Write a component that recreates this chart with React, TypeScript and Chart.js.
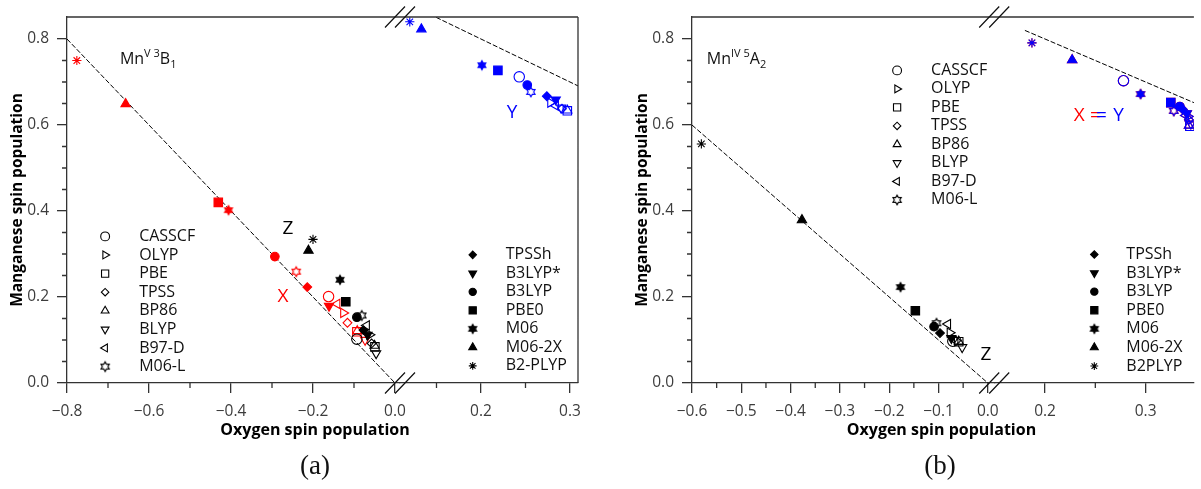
import React, { useEffect, useRef } from 'react';
import { Chart, registerables } from 'chart.js';
import { drawPoint } from 'chart.js/helpers';

Chart.register(...registerables);

// ---------------- DATA ----------------
const methods = ['CASSCF', 'OLYP', 'PBE', 'TPSS', 'BP86', 'BLYP', 'B97-D', 'M06-L', 'TPSSh', 'B3LYP*', 'B3LYP', 'PBE0', 'M06', 'M06-2X', 'B2-PLYP'];

// Panel (a): Mn(V) 3B1 — oxygen spin (x) and manganese spin (y)
const aX_O = [-0.162, -0.126, -0.093, -0.116, -0.092, -0.073, -0.141, -0.241, -0.214, -0.161, -0.293, -0.431, -0.406, -0.657, -0.776];
const aX_Mn = [0.201, 0.163, 0.119, 0.140, 0.121, 0.100, 0.184, 0.259, 0.223, 0.179, 0.294, 0.420, 0.402, 0.649, 0.750];
const aZ_O = [-0.093, -0.062, -0.049, -0.057, -0.050, -0.046, -0.069, -0.081, -0.077, -0.067, -0.093, -0.120, -0.134, -0.211, -0.200];
const aZ_Mn = [0.102, 0.112, 0.084, 0.092, 0.087, 0.069, 0.134, 0.157, 0.123, 0.112, 0.153, 0.189, 0.240, 0.308, 0.334];
const aY_O = [0.243, 0.278, 0.297, 0.291, 0.297, 0.290, 0.284, 0.256, 0.274, 0.284, 0.252, 0.219, 0.201, 0.133, 0.120];
const aY_Mn = [0.712, 0.652, 0.633, 0.638, 0.634, 0.640, 0.645, 0.677, 0.667, 0.659, 0.693, 0.727, 0.739, 0.823, 0.840];

// Panel (b): Mn(IV) 5A2 — X and Y coincide
const bXY_O = [0.278, 0.342, 0.344, 0.343, 0.343, 0.345, 0.340, 0.328, 0.337, 0.341, 0.334, 0.325, 0.295, 0.227, 0.187];
const bXY_Mn = [0.703, 0.620, 0.597, 0.612, 0.599, 0.603, 0.622, 0.633, 0.636, 0.627, 0.643, 0.652, 0.672, 0.751, 0.791];
const bZ_O = [-0.071, -0.077, -0.059, -0.064, -0.059, -0.052, -0.081, -0.104, -0.097, -0.074, -0.109, -0.147, -0.177, -0.377, -0.581];
const bZ_Mn = [0.097, 0.117, 0.096, 0.098, 0.097, 0.083, 0.137, 0.139, 0.116, 0.104, 0.131, 0.168, 0.223, 0.379, 0.556];

// Reference lines (Mn + O = 0 and Mn + O = 1)
const aLineLeft = [[-0.8, 0.8], [0.0, 0.0]];
const aLineRight = [[0.1, 0.9], [0.4, 0.6]];
const bLineLeft = [[-0.6, 0.6], [0.0, 0.0]];
const bLineRight = [[0.18, 0.82], [0.4, 0.6]];

// Ticks
const yTicks = [0.0, 0.2, 0.4, 0.6, 0.8];
const yMinor = [0.05, 0.1, 0.15, 0.25, 0.3, 0.35, 0.45, 0.5, 0.55, 0.65, 0.7, 0.75];
const aXLeftTicks = [-0.8, -0.6, -0.4, -0.2, 0.0];
const aXLeftMinor = [-0.7, -0.5, -0.3, -0.1];
const aXRightTicks = [0.2, 0.3];
const aXRightMinor = [0.15, 0.25];
const bXLeftTicks = [-0.6, -0.5, -0.4, -0.3, -0.2, -0.1, 0.0];
const bXLeftMinor = [-0.55, -0.45, -0.35, -0.25, -0.15, -0.05];
const bXRightTicks = [0.2, 0.3];
const bXRightMinor = [0.25];

// Legends
const legend1 = ['CASSCF', 'OLYP', 'PBE', 'TPSS', 'BP86', 'BLYP', 'B97-D', 'M06-L'];
const aLegend2 = ['TPSSh', 'B3LYP*', 'B3LYP', 'PBE0', 'M06', 'M06-2X', 'B2-PLYP'];
const bLegend2 = ['TPSSh', 'B3LYP*', 'B3LYP', 'PBE0', 'M06', 'M06-2X', 'B2PLYP'];

// ---------------- STYLE ----------------
const RED = '#ff0000';
const BLUE = '#0000ff';
const BLACK = '#000000';
const AXIS = '#333333';
const TICK = '#3c3c3c';
const FONT = '"Open Sans", "Noto Sans", sans-serif';

type MarkerDef = { style: string; rot: number; r: number; filled: boolean };
const markerDefs: Record<string, MarkerDef> = {
  'CASSCF': { style: 'circle', rot: 0, r: 5.2, filled: false },
  'OLYP': { style: 'triangle', rot: 90, r: 5.3, filled: false },
  'PBE': { style: 'rect', rot: 0, r: 6, filled: false },
  'TPSS': { style: 'rectRot', rot: 0, r: 4.4, filled: false },
  'BP86': { style: 'triangle', rot: 0, r: 5.3, filled: false },
  'BLYP': { style: 'triangle', rot: 180, r: 5.3, filled: false },
  'B97-D': { style: 'triangle', rot: 270, r: 5.3, filled: false },
  'M06-L': { style: 'hexagram', rot: 0, r: 4.8, filled: false },
  'TPSSh': { style: 'rectRot', rot: 0, r: 4.4, filled: true },
  'B3LYP*': { style: 'triangle', rot: 180, r: 5.3, filled: true },
  'B3LYP': { style: 'circle', rot: 0, r: 4.3, filled: true },
  'PBE0': { style: 'rect', rot: 0, r: 6, filled: true },
  'M06': { style: 'hexagram', rot: 0, r: 4.6, filled: true },
  'M06-2X': { style: 'triangle', rot: 0, r: 5.4, filled: true },
  'B2-PLYP': { style: 'star', rot: 0, r: 4.6, filled: false },
};
const keyFor = (label: string) => (label === 'B2PLYP' ? 'B2-PLYP' : label);

const hexCache = new Map<string, HTMLCanvasElement>();
function hexagram(color: string, filled: boolean, R: number): HTMLCanvasElement {
  const key = color + String(filled) + R;
  const got = hexCache.get(key);
  if (got) return got;
  const size = Math.ceil(2 * R + 4);
  const c = document.createElement('canvas');
  c.width = size;
  c.height = size;
  const ctx = c.getContext('2d')!;
  const cx = size / 2, cy = size / 2, r2 = R / Math.sqrt(3);
  ctx.beginPath();
  for (let i = 0; i < 12; i++) {
    const ang = -Math.PI / 2 + (i * Math.PI) / 6;
    const rr = i % 2 === 0 ? R : r2;
    const x = cx + rr * Math.cos(ang), y = cy + rr * Math.sin(ang);
    if (i === 0) ctx.moveTo(x, y); else ctx.lineTo(x, y);
  }
  ctx.closePath();
  if (filled) { ctx.fillStyle = color; ctx.fill(); }
  ctx.strokeStyle = color;
  ctx.lineWidth = 1.1;
  ctx.stroke();
  hexCache.set(key, c);
  return c;
}
function styleFor(m: string, color: string): any {
  const d = markerDefs[m];
  if (d.style === 'hexagram') return hexagram(color, d.filled, d.r);
  return d.style;
}

const fmt = (v: number) => (v < -1e-9 ? '\u2212' + Math.abs(v).toFixed(1) : Math.abs(v).toFixed(1));

// ---------------- PANELS ----------------
type Seg = { min: number; max: number; weight: number; ticks: number[]; minor: number[] };
type Series = { o: number[]; mn: number[]; color: string; axis: string; order: number };
type TextItem = { axis: string; x: number; y: number; text: string; color: string; size: number };
type LegendBlock = { axis: string; x: number; y: number; gap: number; dx: number; labels: string[] };
type RichPart = { t: string; k: 'n' | 'sup' | 'sub' };
type PanelCfg = {
  left: number; width: number;
  padding: { left: number; right: number; top: number; bottom: number };
  yWidth: number;
  xl: Seg; xr: Seg;
  series: Series[];
  lines: { pts: number[][]; axis: string }[];
  texts: TextItem[];
  legends: LegendBlock[];
  rich: { axis: string; x: number; y: number; parts: RichPart[] };
  xTitle: { axis: string; x: number; dy: number };
  frameRight: boolean;
};

const panelA: PanelCfg = {
  left: 0, width: 600,
  padding: { left: 0, right: 22, top: 17, bottom: 66 },
  yWidth: 67,
  xl: { min: -0.8, max: 0.0122, weight: 333, ticks: aXLeftTicks, minor: aXLeftMinor },
  xr: { min: 0.109, max: 0.309, weight: 178, ticks: aXRightTicks, minor: aXRightMinor },
  series: [
    { o: aX_O, mn: aX_Mn, color: RED, axis: 'xl', order: 2 },
    { o: aZ_O, mn: aZ_Mn, color: BLACK, axis: 'xl', order: 1 },
    { o: aY_O, mn: aY_Mn, color: BLUE, axis: 'xr', order: 1 },
  ],
  lines: [{ pts: aLineLeft, axis: 'xl' }, { pts: aLineRight, axis: 'xr' }],
  texts: [
    { axis: 'xl', x: -0.261, y: 0.360, text: 'Z', color: BLACK, size: 19 },
    { axis: 'xl', x: -0.273, y: 0.200, text: 'X', color: RED, size: 19 },
    { axis: 'xr', x: 0.235, y: 0.628, text: 'Y', color: BLUE, size: 19 },
  ],
  legends: [
    { axis: 'xl', x: -0.707, y: 0.341, gap: 18.6, dx: 34, labels: legend1 },
    { axis: 'xr', x: 0.1907, y: 0.298, gap: 18.5, dx: 33, labels: aLegend2 },
  ],
  rich: { axis: 'xl', x: -0.671, y: 0.742, parts: [
    { t: 'Mn', k: 'n' }, { t: 'V', k: 'sup' }, { t: ' ', k: 'sup' }, { t: '3', k: 'sup' }, { t: 'B', k: 'n' }, { t: '1', k: 'sub' },
  ] },
  xTitle: { axis: 'xl', x: -0.195, dy: 47 },
  frameRight: true,
};

const panelB: PanelCfg = {
  left: 600, width: 601,
  padding: { left: 25, right: 0, top: 17, bottom: 66 },
  yWidth: 67,
  xl: { min: -0.6, max: 0.013, weight: 306.5, ticks: bXLeftTicks, minor: bXLeftMinor },
  xr: { min: 0.1495, max: 0.348, weight: 202.5, ticks: bXRightTicks, minor: bXRightMinor },
  series: [
    { o: bZ_O, mn: bZ_Mn, color: BLACK, axis: 'xl', order: 1 },
    { o: bXY_O, mn: bXY_Mn, color: RED, axis: 'xr', order: 2 },
    { o: bXY_O, mn: bXY_Mn, color: BLUE, axis: 'xr', order: 1 },
  ],
  lines: [{ pts: bLineLeft, axis: 'xl' }, { pts: bLineRight, axis: 'xr' }],
  texts: [
    { axis: 'xl', x: -0.004, y: 0.067, text: 'Z', color: BLACK, size: 19 },
    { axis: 'xr', x: 0.234, y: 0.623, text: 'X', color: RED, size: 19 },
    { axis: 'xr', x: 0.250, y: 0.623, text: '=', color: RED, size: 19 },
    { axis: 'xr', x: 0.256, y: 0.623, text: '=', color: BLUE, size: 19 },
    { axis: 'xr', x: 0.273, y: 0.623, text: 'Y', color: BLUE, size: 19 },
  ],
  legends: [
    { axis: 'xl', x: -0.184, y: 0.727, gap: 18.5, dx: 34, labels: legend1 },
    { axis: 'xr', x: 0.249, y: 0.299, gap: 18.6, dx: 32, labels: bLegend2 },
  ],
  rich: { axis: 'xl', x: -0.57, y: 0.742, parts: [
    { t: 'Mn', k: 'n' }, { t: 'IV', k: 'sup' }, { t: ' ', k: 'sup' }, { t: '5', k: 'sup' }, { t: 'A', k: 'n' }, { t: '2', k: 'sub' },
  ] },
  xTitle: { axis: 'xl', x: -0.094, dy: 47 },
  frameRight: false,
};

function xScale(seg: Seg): any {
  return {
    type: 'linear', position: 'bottom', stack: 'xb', stackWeight: seg.weight,
    min: seg.min, max: seg.max,
    afterBuildTicks: (s: any) => { s.ticks = seg.ticks.map((v) => ({ value: v })); },
    afterFit: (s: any) => { s.height = 40; s.paddingLeft = 0; s.paddingRight = 0; },
    grid: { drawOnChartArea: false, drawTicks: true, tickLength: 10, color: AXIS, lineWidth: 1.3 },
    border: { display: true, color: AXIS, width: 1.3 },
    ticks: { autoSkip: false, maxRotation: 0, padding: 9, color: TICK, font: { family: FONT, size: 15.5 }, callback: (v: any) => fmt(Number(v)) },
  };
}

function buildConfig(cfg: PanelCfg): any {
  const datasets: any[] = [];
  cfg.series.forEach((s) => {
    datasets.push({
      data: s.o.map((o, i) => ({ x: o, y: s.mn[i] })),
      xAxisID: s.axis, yAxisID: 'y', order: s.order,
      pointStyle: methods.map((m) => styleFor(m, s.color)),
      pointRadius: methods.map((m) => markerDefs[m].r),
      pointRotation: methods.map((m) => markerDefs[m].rot),
      pointBackgroundColor: methods.map((m) => (markerDefs[m].filled ? s.color : 'rgba(0,0,0,0)')),
      pointBorderColor: s.color,
      pointBorderWidth: 1.1,
      showLine: false,
    });
  });
  cfg.lines.forEach((l) => {
    datasets.push({
      data: l.pts.map((p) => ({ x: p[0], y: p[1] })),
      xAxisID: l.axis, yAxisID: 'y', order: 10,
      showLine: true, borderColor: '#000', borderWidth: 1, borderDash: [5, 2],
      pointRadius: 0, fill: false,
    });
  });

  const decor = {
    id: 'decor',
    afterDraw(chart: any) {
      const ctx: CanvasRenderingContext2D = chart.ctx;
      const ca = chart.chartArea;
      const sx = chart.scales;
      ctx.save();
      // minor ticks
      ctx.strokeStyle = AXIS;
      ctx.lineWidth = 1.3;
      ctx.beginPath();
      yMinor.forEach((v) => { const p = sx.y.getPixelForValue(v); ctx.moveTo(ca.left - 5, p); ctx.lineTo(ca.left, p); });
      [['xl', cfg.xl.minor], ['xr', cfg.xr.minor]].forEach(([id, vals]: any) => {
        vals.forEach((v: number) => { const p = sx[id].getPixelForValue(v); ctx.moveTo(p, ca.bottom); ctx.lineTo(p, ca.bottom + 5); });
      });
      // frame
      ctx.moveTo(ca.left, ca.top); ctx.lineTo(ca.right, ca.top);
      if (cfg.frameRight) { ctx.moveTo(ca.right, ca.top); ctx.lineTo(ca.right, ca.bottom); }
      ctx.stroke();
      // axis break marks
      const bx = sx.xl.right;
      ctx.strokeStyle = '#111';
      ctx.lineWidth = 1.2;
      ctx.beginPath();
      [ca.top, ca.bottom].forEach((yy) => {
        [-5, 5].forEach((off) => { ctx.moveTo(bx + off - 10, yy + 10.5); ctx.lineTo(bx + off + 10, yy - 10.5); });
      });
      ctx.stroke();

      // annotation letters
      ctx.textAlign = 'center';
      ctx.textBaseline = 'middle';
      cfg.texts.forEach((t) => {
        ctx.font = `${t.size}px ${FONT}`;
        ctx.fillStyle = t.color;
        ctx.fillText(t.text, sx[t.axis].getPixelForValue(t.x), sx.y.getPixelForValue(t.y));
      });

      // state label with super/subscripts
      ctx.textAlign = 'left';
      ctx.textBaseline = 'alphabetic';
      ctx.fillStyle = '#111';
      let rx = sx[cfg.rich.axis].getPixelForValue(cfg.rich.x);
      const ry = sx.y.getPixelForValue(cfg.rich.y);
      cfg.rich.parts.forEach((p) => {
        const size = p.k === 'n' ? 16 : 11;
        ctx.font = `${size}px ${FONT}`;
        const dy = p.k === 'sup' ? -7 : p.k === 'sub' ? 4 : 0;
        ctx.fillText(p.t, rx, ry + dy);
        rx += ctx.measureText(p.t).width;
      });

      // legends
      cfg.legends.forEach((lg) => {
        const lx = sx[lg.axis].getPixelForValue(lg.x);
        const ly0 = sx.y.getPixelForValue(lg.y);
        lg.labels.forEach((lab, i) => {
          const m = keyFor(lab);
          const d = markerDefs[m];
          const yy = ly0 + i * lg.gap;
          ctx.strokeStyle = '#000';
          ctx.fillStyle = d.filled ? '#000' : 'rgba(0,0,0,0)';
          ctx.lineWidth = 1.1;
          drawPoint(ctx, { pointStyle: styleFor(m, '#000'), rotation: d.rot, radius: d.r * 0.85, borderWidth: 1.1 } as any, lx, yy);
          ctx.fillStyle = '#111';
          ctx.font = `16px ${FONT}`;
          ctx.textAlign = 'left';
          ctx.textBaseline = 'middle';
          ctx.fillText(lab, lx + lg.dx, yy);
        });
      });

      // x axis title spanning both segments
      ctx.font = `bold 16px ${FONT}`;
      ctx.fillStyle = '#000';
      ctx.textAlign = 'center';
      ctx.textBaseline = 'middle';
      ctx.fillText('Oxygen spin population', sx[cfg.xTitle.axis].getPixelForValue(cfg.xTitle.x), ca.bottom + cfg.xTitle.dy);
      ctx.restore();
    },
  };

  return {
    type: 'scatter',
    data: { datasets },
    options: {
      animation: false,
      responsive: false,
      devicePixelRatio: 1,
      layout: { padding: cfg.padding },
      plugins: { legend: { display: false }, tooltip: { enabled: false }, title: { display: false } },
      scales: {
        xl: xScale(cfg.xl),
        xr: xScale(cfg.xr),
        y: {
          type: 'linear', position: 'left', min: 0, max: 0.8512,
          afterBuildTicks: (s: any) => { s.ticks = yTicks.map((v) => ({ value: v })); },
          afterFit: (s: any) => { s.width = cfg.yWidth; s.paddingTop = 0; s.paddingBottom = 0; },
          grid: { drawOnChartArea: false, drawTicks: true, tickLength: 10, color: AXIS, lineWidth: 1.3 },
          border: { display: true, color: AXIS, width: 1.3 },
          ticks: { padding: 8, color: TICK, font: { family: FONT, size: 15.5 }, callback: (v: any) => Number(v).toFixed(1) },
          title: { display: true, text: 'Manganese spin population', color: '#000', font: { family: FONT, size: 15.5, weight: 'bold' }, padding: { top: 8, bottom: 0 } },
        },
      },
    },
    plugins: [decor],
  };
}

function Panel({ cfg }: { cfg: PanelCfg }) {
  const ref = useRef<HTMLCanvasElement>(null);
  useEffect(() => {
    const chart = new Chart(ref.current as HTMLCanvasElement, buildConfig(cfg));
    return () => chart.destroy();
  }, [cfg]);
  return (
    <canvas
      ref={ref}
      width={cfg.width}
      height={489}
      style={{ position: 'absolute', left: cfg.left, top: 0, width: cfg.width, height: 489 }}
    />
  );
}

const captionStyle: React.CSSProperties = {
  position: 'absolute', top: 448, width: 100, textAlign: 'center',
  fontFamily: '"Liberation Serif", "DejaVu Serif", serif', fontSize: 27, lineHeight: '34px', color: '#111',
};

export default function App() {
  return (
    <div style={{ position: 'absolute', left: 0, top: 0, width: 1201, height: 489, background: '#fff', overflow: 'hidden' }}>
      <Panel cfg={panelA} />
      <Panel cfg={panelB} />
      <div style={{ ...captionStyle, left: 265 }}>(a)</div>
      <div style={{ ...captionStyle, left: 890 }}>(b)</div>
    </div>
  );
}
